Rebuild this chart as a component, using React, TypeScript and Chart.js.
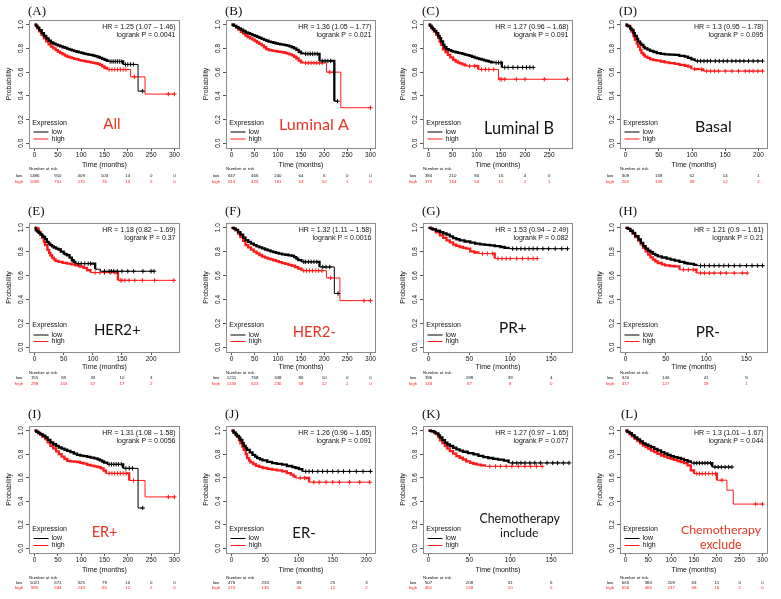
import React, { useEffect, useRef } from 'react';
import { Chart, registerables } from 'chart.js';

Chart.register(...registerables);

type Pt = [number, number];

// ---------- tick values ----------
const TICKS_Y = [0, 0.2, 0.4, 0.6, 0.8, 1.0];
const TICKS_150 = [0, 50, 100, 150];
const TICKS_200 = [0, 50, 100, 150, 200];
const TICKS_250 = [0, 50, 100, 150, 200, 250];
const TICKS_300 = [0, 50, 100, 150, 200, 250, 300];

// ---------- survival curves: [months, probability]; a point at the same level as the one before is a censor mark ----------
const A_low: Pt[] = [[0,1],[3,0.99],[6,0.975],[10,0.955],[15,0.93],[20,0.905],[25,0.885],[30,0.865],[35,0.85],[40,0.84],[45,0.832],[50,0.825],[55,0.818],[60,0.81],[65,0.805],[70,0.797],[75,0.79],[80,0.784],[85,0.778],[90,0.772],[95,0.767],[100,0.762],[105,0.757],[110,0.752],[115,0.748],[120,0.745],[125,0.74],[130,0.735],[135,0.728],[140,0.72],[145,0.712],[150,0.703],[155,0.695],[158,0.69],[162,0.69],[166,0.69],[170,0.69],[174,0.69],[178,0.69],[182,0.69],[186,0.69],[190,0.665],[195,0.665],[200,0.665],[206,0.665],[212,0.665],[222,0.44],[232,0.44]];
const A_high: Pt[] = [[0,1],[3,0.99],[6,0.97],[10,0.945],[15,0.915],[20,0.885],[25,0.86],[30,0.835],[35,0.815],[40,0.8],[45,0.785],[50,0.772],[55,0.76],[60,0.75],[65,0.74],[70,0.73],[75,0.724],[80,0.718],[85,0.712],[90,0.707],[95,0.702],[100,0.698],[105,0.694],[110,0.69],[115,0.686],[120,0.683],[125,0.679],[130,0.675],[135,0.67],[140,0.662],[145,0.648],[150,0.635],[155,0.622],[160,0.622],[166,0.622],[172,0.622],[178,0.622],[184,0.622],[190,0.622],[196,0.622],[206,0.56],[214,0.56],[237,0.415],[287,0.415],[300,0.415]];

const B_low: Pt[] = [[0,1],[5,0.99],[10,0.98],[15,0.97],[20,0.958],[25,0.947],[30,0.936],[35,0.928],[40,0.92],[45,0.912],[50,0.905],[55,0.897],[60,0.889],[65,0.881],[70,0.872],[75,0.865],[80,0.858],[85,0.853],[90,0.848],[95,0.843],[100,0.838],[105,0.835],[110,0.832],[115,0.828],[120,0.823],[125,0.817],[130,0.81],[135,0.8],[140,0.788],[145,0.772],[150,0.758],[155,0.755],[160,0.755],[165,0.755],[170,0.755],[175,0.755],[180,0.755],[185,0.755],[190,0.695],[196,0.695],[202,0.695],[208,0.695],[214,0.695],[222,0.355],[229,0.355]];
const B_high: Pt[] = [[0,1],[5,0.99],[10,0.975],[15,0.958],[20,0.94],[25,0.925],[30,0.908],[35,0.896],[40,0.885],[45,0.874],[50,0.863],[55,0.85],[60,0.838],[65,0.826],[70,0.81],[75,0.795],[80,0.787],[85,0.783],[90,0.78],[95,0.777],[100,0.774],[105,0.771],[110,0.768],[115,0.762],[120,0.756],[125,0.75],[130,0.742],[135,0.73],[140,0.715],[145,0.698],[150,0.682],[153,0.678],[160,0.678],[166,0.678],[172,0.678],[178,0.678],[184,0.678],[190,0.678],[196,0.678],[205,0.6],[212,0.6],[220,0.6],[236,0.3],[300,0.3]];

const C_low: Pt[] = [[0,1],[3,0.99],[6,0.975],[9,0.963],[12,0.948],[16,0.93],[20,0.905],[23,0.887],[26,0.86],[30,0.83],[33,0.81],[37,0.793],[42,0.785],[47,0.778],[51,0.773],[56,0.768],[61,0.763],[65,0.76],[70,0.754],[75,0.748],[80,0.743],[85,0.737],[90,0.73],[95,0.723],[100,0.716],[105,0.711],[110,0.705],[115,0.7],[120,0.694],[125,0.688],[130,0.682],[135,0.68],[140,0.68],[145,0.68],[150,0.68],[152,0.64],[158,0.64],[165,0.64],[175,0.64],[185,0.64],[195,0.64],[203,0.64],[210,0.64],[217,0.64]];
const C_high: Pt[] = [[0,1],[3,0.99],[6,0.972],[9,0.957],[12,0.94],[16,0.915],[20,0.89],[23,0.858],[26,0.83],[30,0.793],[35,0.77],[40,0.745],[45,0.725],[51,0.703],[56,0.69],[61,0.68],[65,0.674],[70,0.665],[75,0.657],[78,0.652],[85,0.652],[95,0.652],[103,0.623],[110,0.623],[118,0.623],[125,0.623],[135,0.623],[145,0.54],[148,0.54],[152,0.54],[158,0.54],[182,0.54],[200,0.54],[240,0.54],[288,0.54]];

const D_low: Pt[] = [[0,1],[2,0.993],[4,0.986],[7,0.97],[9,0.957],[12,0.93],[14,0.906],[17,0.88],[19,0.858],[22,0.84],[24,0.83],[27,0.812],[29,0.8],[33,0.79],[37,0.779],[42,0.77],[47,0.76],[53,0.755],[59,0.75],[66,0.748],[74,0.745],[81,0.738],[89,0.731],[94,0.72],[99,0.708],[104,0.694],[108,0.694],[113,0.694],[118,0.694],[123,0.694],[128,0.694],[135,0.694],[141,0.694],[147,0.694],[153,0.694],[160,0.694],[166,0.694],[172,0.694],[178,0.694],[185,0.694],[192,0.694],[199,0.694],[206,0.694]];
const D_high: Pt[] = [[0,1],[2,0.995],[4,0.99],[7,0.965],[9,0.943],[12,0.905],[14,0.873],[17,0.84],[19,0.816],[22,0.785],[24,0.76],[27,0.745],[29,0.731],[33,0.72],[37,0.708],[42,0.702],[47,0.697],[53,0.69],[59,0.683],[66,0.676],[74,0.669],[81,0.662],[89,0.654],[94,0.646],[99,0.626],[104,0.626],[110,0.623],[114,0.623],[117,0.609],[122,0.609],[128,0.609],[134,0.609],[140,0.609],[150,0.609],[160,0.609],[170,0.609],[180,0.609],[186,0.609],[192,0.609],[199,0.609],[206,0.609]];

const E_low: Pt[] = [[0,1],[2,0.98],[4,0.97],[7,0.958],[10,0.944],[13,0.932],[15,0.924],[18,0.905],[21,0.882],[24,0.868],[27,0.854],[30,0.845],[33,0.835],[37,0.826],[41,0.818],[45,0.8],[50,0.784],[53,0.777],[56,0.77],[60,0.75],[64,0.728],[67,0.714],[70,0.7],[75,0.7],[80,0.7],[86,0.7],[92,0.7],[96,0.7],[104,0.653],[113,0.636],[120,0.636],[128,0.636],[132,0.636],[136,0.636],[142,0.636],[150,0.636],[160,0.636],[170,0.636],[186,0.636],[200,0.636],[205,0.636]];
const E_high: Pt[] = [[0,1],[4,0.994],[7,0.966],[10,0.94],[13,0.916],[16,0.88],[18,0.854],[22,0.815],[25,0.79],[27,0.77],[30,0.75],[33,0.735],[36,0.723],[41,0.714],[48,0.707],[56,0.7],[63,0.693],[70,0.686],[77,0.675],[84,0.664],[90,0.645],[96,0.625],[104,0.625],[112,0.625],[120,0.625],[130,0.625],[138,0.625],[143,0.56],[147,0.56],[150,0.56],[155,0.56],[162,0.56],[172,0.56],[185,0.56],[206,0.56],[239,0.56]];

const F_low: Pt[] = [[0,1],[5,0.993],[9,0.983],[14,0.963],[19,0.942],[25,0.918],[30,0.896],[36,0.882],[42,0.868],[48,0.855],[54,0.845],[60,0.836],[66,0.827],[72,0.818],[78,0.81],[84,0.803],[90,0.797],[96,0.79],[102,0.784],[109,0.778],[116,0.774],[123,0.769],[130,0.764],[135,0.755],[140,0.742],[144,0.73],[151,0.715],[156,0.715],[160,0.715],[166,0.715],[172,0.715],[178,0.715],[184,0.715],[190,0.672],[197,0.672],[204,0.672],[212,0.672],[222,0.45],[230,0.45]];
const F_high: Pt[] = [[0,1],[5,0.99],[9,0.978],[14,0.952],[19,0.923],[25,0.89],[30,0.855],[36,0.836],[42,0.817],[48,0.8],[54,0.786],[60,0.772],[66,0.759],[72,0.75],[78,0.742],[84,0.735],[90,0.728],[96,0.72],[102,0.712],[109,0.704],[116,0.697],[123,0.69],[130,0.682],[137,0.67],[144,0.658],[151,0.641],[156,0.641],[162,0.641],[168,0.641],[175,0.641],[182,0.641],[188,0.641],[195,0.641],[205,0.58],[214,0.58],[234,0.39],[286,0.39],[300,0.39]];

const G_low: Pt[] = [[0,1],[3,0.993],[5,0.986],[9,0.975],[14,0.964],[18,0.953],[22,0.942],[26,0.928],[30,0.914],[34,0.904],[38,0.895],[44,0.885],[51,0.875],[57,0.868],[63,0.861],[69,0.857],[75,0.853],[81,0.846],[88,0.839],[93,0.832],[98,0.825],[103,0.825],[108,0.825],[113,0.825],[118,0.825],[123,0.825],[128,0.825],[133,0.825],[140,0.825],[147,0.825],[155,0.825],[163,0.825],[170,0.825]];
const G_high: Pt[] = [[0,1],[3,0.993],[5,0.986],[9,0.962],[14,0.936],[18,0.915],[22,0.895],[26,0.877],[30,0.859],[34,0.849],[38,0.839],[42,0.832],[46,0.825],[51,0.803],[56,0.793],[61,0.784],[66,0.784],[72,0.784],[78,0.784],[81,0.742],[85,0.742],[90,0.742],[95,0.742],[100,0.742],[108,0.742],[115,0.742],[122,0.742],[128,0.742],[133,0.742]];

const H_low: Pt[] = [[0,1],[3,0.99],[6,0.975],[9,0.958],[12,0.93],[16,0.902],[19,0.874],[22,0.846],[25,0.826],[28,0.809],[31,0.795],[34,0.781],[37,0.771],[40,0.761],[45,0.751],[51,0.742],[56,0.733],[61,0.725],[67,0.715],[73,0.705],[77,0.7],[81,0.697],[85,0.69],[88,0.683],[93,0.683],[98,0.683],[104,0.683],[110,0.683],[116,0.683],[122,0.683],[128,0.683],[135,0.683],[142,0.683],[150,0.683],[157,0.683],[164,0.683],[170,0.683]];
const H_high: Pt[] = [[0,1],[3,0.99],[6,0.972],[9,0.949],[12,0.922],[16,0.893],[19,0.862],[22,0.831],[25,0.803],[28,0.775],[31,0.753],[34,0.733],[37,0.718],[40,0.705],[45,0.693],[49,0.685],[55,0.68],[61,0.677],[67,0.649],[72,0.649],[78,0.649],[84,0.649],[88,0.621],[93,0.621],[98,0.621],[104,0.621],[110,0.621],[118,0.621],[125,0.621],[135,0.621],[145,0.621],[151,0.621]];

const I_low: Pt[] = [[0,1],[4,0.99],[8,0.982],[12,0.971],[17,0.958],[23,0.943],[28,0.922],[34,0.9],[40,0.885],[46,0.871],[52,0.857],[58,0.847],[64,0.838],[70,0.829],[77,0.817],[84,0.805],[91,0.794],[98,0.788],[105,0.783],[113,0.777],[120,0.771],[128,0.764],[135,0.757],[140,0.748],[145,0.738],[149,0.729],[156,0.714],[160,0.714],[165,0.714],[170,0.714],[175,0.714],[180,0.714],[186,0.714],[190,0.68],[196,0.68],[203,0.68],[210,0.68],[222,0.343],[232,0.343]];
const I_high: Pt[] = [[0,1],[4,0.99],[8,0.978],[12,0.966],[17,0.948],[23,0.929],[28,0.9],[34,0.871],[40,0.85],[46,0.825],[52,0.8],[58,0.78],[64,0.76],[70,0.743],[77,0.74],[84,0.737],[91,0.734],[98,0.727],[105,0.72],[113,0.709],[120,0.703],[128,0.697],[135,0.691],[142,0.68],[148,0.66],[153,0.637],[160,0.637],[166,0.637],[172,0.637],[178,0.637],[184,0.637],[190,0.637],[196,0.637],[203,0.577],[212,0.577],[237,0.437],[287,0.437],[300,0.437]];

const J_low: Pt[] = [[0,1],[3,0.983],[6,0.97],[8,0.955],[11,0.94],[13,0.921],[16,0.895],[18,0.871],[21,0.852],[23,0.837],[27,0.815],[31,0.795],[35,0.78],[38,0.767],[42,0.757],[46,0.747],[53,0.735],[60,0.725],[67,0.718],[75,0.711],[82,0.7],[90,0.691],[95,0.683],[100,0.674],[105,0.654],[110,0.654],[115,0.654],[120,0.654],[128,0.654],[135,0.654],[142,0.654],[150,0.654],[158,0.654],[166,0.654],[175,0.654],[185,0.654],[195,0.654],[206,0.654]];
const J_high: Pt[] = [[0,1],[3,0.983],[6,0.965],[8,0.949],[11,0.92],[13,0.893],[16,0.865],[18,0.837],[21,0.8],[23,0.767],[26,0.745],[28,0.73],[32,0.715],[36,0.702],[41,0.692],[46,0.683],[53,0.676],[60,0.669],[67,0.662],[75,0.654],[82,0.64],[88,0.626],[92,0.612],[95,0.598],[102,0.598],[108,0.598],[115,0.562],[122,0.562],[130,0.562],[140,0.562],[150,0.562],[160,0.562],[175,0.562],[190,0.562],[205,0.562]];

const K_low: Pt[] = [[0,1],[3,0.997],[5,0.994],[7,0.986],[9,0.977],[12,0.96],[14,0.942],[17,0.92],[20,0.899],[23,0.884],[26,0.87],[30,0.855],[34,0.841],[38,0.831],[42,0.821],[48,0.81],[55,0.798],[61,0.786],[67,0.775],[73,0.768],[79,0.761],[85,0.754],[92,0.746],[98,0.726],[103,0.726],[108,0.726],[113,0.726],[118,0.726],[124,0.726],[130,0.726],[137,0.726],[145,0.726],[152,0.726],[158,0.726],[165,0.726],[172,0.726]];
const K_high: Pt[] = [[0,1],[3,0.997],[5,0.994],[7,0.983],[9,0.971],[12,0.945],[14,0.919],[17,0.894],[20,0.87],[23,0.848],[26,0.827],[30,0.805],[34,0.784],[38,0.77],[42,0.755],[46,0.74],[51,0.726],[55,0.719],[59,0.712],[64,0.705],[69,0.697],[75,0.697],[82,0.697],[88,0.697],[95,0.697],[102,0.697],[110,0.697],[118,0.697],[125,0.697],[132,0.697],[139,0.697]];

const L_low: Pt[] = [[0,1],[4,0.99],[9,0.98],[14,0.962],[20,0.944],[26,0.927],[32,0.91],[38,0.893],[44,0.882],[50,0.871],[56,0.86],[63,0.846],[70,0.832],[78,0.817],[85,0.806],[92,0.795],[99,0.784],[106,0.776],[114,0.769],[121,0.761],[128,0.75],[136,0.739],[143,0.725],[150,0.725],[156,0.725],[162,0.725],[168,0.725],[174,0.725],[180,0.725],[186,0.725],[190,0.691],[196,0.691],[203,0.691],[210,0.691],[218,0.691],[226,0.691],[233,0.691]];
const L_high: Pt[] = [[0,1],[4,0.988],[9,0.972],[14,0.951],[20,0.93],[26,0.912],[32,0.893],[38,0.874],[44,0.86],[50,0.845],[56,0.831],[63,0.817],[70,0.803],[78,0.789],[85,0.78],[92,0.77],[99,0.761],[106,0.752],[114,0.742],[121,0.733],[128,0.724],[136,0.705],[143,0.663],[150,0.635],[156,0.635],[162,0.635],[168,0.635],[175,0.635],[182,0.635],[190,0.635],[197,0.635],[200,0.579],[211,0.579],[222,0.494],[236,0.376],[285,0.376],[300,0.376]];

// ---------- numbers at risk ----------
const A_riskLow = [1486, 910, 409, 103, 14, 0, 0];
const A_riskHigh = [1095, 701, 270, 76, 13, 2, 0];
const B_riskLow = [647, 466, 240, 64, 6, 0, 0];
const B_riskHigh = [613, 425, 181, 53, 10, 1, 0];
const C_riskLow = [384, 210, 84, 16, 4, 0];
const C_riskHigh = [372, 164, 50, 11, 2, 1];
const D_riskLow = [309, 158, 52, 14, 1];
const D_riskHigh = [262, 126, 39, 12, 2];
const E_riskLow = [155, 85, 33, 10, 3];
const E_riskHigh = [298, 155, 67, 17, 2];
const F_riskLow = [1211, 768, 348, 86, 10, 0, 0];
const F_riskHigh = [1133, 623, 230, 58, 12, 2, 0];
const G_riskLow = [396, 198, 39, 4];
const G_riskHigh = [133, 67, 8, 0];
const H_riskLow = [320, 146, 41, 9];
const H_riskHigh = [317, 127, 19, 1];
const I_riskLow = [1021, 671, 325, 79, 10, 0, 0];
const I_riskHigh = [995, 594, 233, 65, 12, 2, 0];
const J_riskLow = [476, 233, 83, 25, 3];
const J_riskHigh = [273, 135, 40, 12, 2];
const K_riskLow = [507, 208, 31, 6];
const K_riskHigh = [461, 158, 10, 0];
const L_riskLow = [665, 384, 209, 63, 11, 0, 0];
const L_riskHigh = [656, 466, 237, 68, 16, 2, 0];

// ---------- panel texts ----------
const LETTERS = ['(A)', '(B)', '(C)', '(D)', '(E)', '(F)', '(G)', '(H)', '(I)', '(J)', '(K)', '(L)'];
const HR_TEXT = [
  'HR = 1.25 (1.07 – 1.46)', 'HR = 1.36 (1.05 – 1.77)', 'HR = 1.27 (0.96 – 1.68)', 'HR = 1.3 (0.95 – 1.78)',
  'HR = 1.18 (0.82 – 1.69)', 'HR = 1.32 (1.11 – 1.58)', 'HR = 1.53 (0.94 – 2.49)', 'HR = 1.21 (0.9 – 1.61)',
  'HR = 1.31 (1.08 – 1.58)', 'HR = 1.26 (0.96 – 1.65)', 'HR = 1.27 (0.97 – 1.65)', 'HR = 1.3 (1.01 – 1.67)',
];
const P_TEXT = [
  'logrank P = 0.0041', 'logrank P = 0.021', 'logrank P = 0.091', 'logrank P = 0.095',
  'logrank P = 0.37', 'logrank P = 0.0016', 'logrank P = 0.082', 'logrank P = 0.21',
  'logrank P = 0.0056', 'logrank P = 0.091', 'logrank P = 0.077', 'logrank P = 0.044',
];
const SUBGROUPS = [
  ['All'], ['Luminal A'], ['Luminal B'], ['Basal'],
  ['HER2+'], ['HER2-'], ['PR+'], ['PR-'],
  ['ER+'], ['ER-'], ['Chemotherapy', 'include'], ['Chemotherapy', 'exclude'],
];
const SUBGROUP_RED = [true, true, false, false, false, true, false, false, true, false, false, true];

const LOWS = [A_low, B_low, C_low, D_low, E_low, F_low, G_low, H_low, I_low, J_low, K_low, L_low];
const HIGHS = [A_high, B_high, C_high, D_high, E_high, F_high, G_high, H_high, I_high, J_high, K_high, L_high];
const RISK_LOW = [A_riskLow, B_riskLow, C_riskLow, D_riskLow, E_riskLow, F_riskLow, G_riskLow, H_riskLow, I_riskLow, J_riskLow, K_riskLow, L_riskLow];
const RISK_HIGH = [A_riskHigh, B_riskHigh, C_riskHigh, D_riskHigh, E_riskHigh, F_riskHigh, G_riskHigh, H_riskHigh, I_riskHigh, J_riskHigh, K_riskHigh, L_riskHigh];
const X_MAX = [300, 300, 288, 206, 240, 300, 170, 170, 300, 206, 170, 300];
const X_TICKS = [TICKS_300, TICKS_300, TICKS_250, TICKS_200, TICKS_200, TICKS_300, TICKS_150, TICKS_150, TICKS_300, TICKS_200, TICKS_150, TICKS_300];

// ---------- layout (absolute page pixels) ----------
const COL_X0 = [0, 197, 394, 591];
const COL_W = [197, 197, 197, 190];
const ROW_Y0 = [0, 203, 407];
const ROW_H = [203, 204, 192];
const FRAME_L = [29, 226, 423, 620];
const FRAME_R = [180, 376, 573, 768];
const FRAME_T = [20, 223, 426];
const FRAME_B = [148, 352, 553];
const LETTER_Y = [11.5, 211.7, 414.5];
const XTITLE_OFF = [16.7, 15, 17.3];
const LEGEND_OFF = [[-25, -16, -9], [-26.5, -17, -10.5], [-24, -14.5, -7.5]];
const RISK_OFF = [[21, 27.4, 34], [21, 26, 32], [25, 30, 35]];
// subgroup label lines: [centre x, centre y, width]
const LABEL_BOX: number[][][] = [
  [[112, 123.7, 17.3]], [[314, 123.7, 70]], [[519, 128.3, 70]], [[713.3, 126.7, 36.7]],
  [[117.3, 330, 46.7]], [[314.3, 331.7, 43.3]], [[512.8, 327.3, 27.7]], [[707.8, 331.7, 24.3]],
  [[104.5, 532.3, 25.7]], [[304, 532.3, 23.3]],
  [[519.7, 519, 80.7], [519.2, 532.3, 38.3]], [[721, 530, 80], [720.8, 545, 41.7]],
];

const Y_AXIS_W = 27;
const X_AXIS_H = 26;
const FONT = '"Liberation Sans", Arial, Helvetica, sans-serif';
const LABEL_FONT = 'Lato, "Open Sans", sans-serif';
const RED = '#ff1a1a';
const LABEL_RED = '#ea3323';
const FRAME_COLOR = '#8c8c8c';

Chart.defaults.font.family = FONT;

function makeDecor(i: number) {
  const col = i % 4;
  const row = Math.floor(i / 4);
  const x0 = COL_X0[col];
  const y0 = ROW_Y0[row];
  return {
    id: 'kmDecor' + i,
    afterDraw(chart: any) {
      const ctx: CanvasRenderingContext2D = chart.ctx;
      const a = chart.chartArea;
      const xs = chart.scales.x;
      ctx.save();
      // box
      ctx.strokeStyle = FRAME_COLOR;
      ctx.lineWidth = 1;
      ctx.strokeRect(Math.round(a.left) + 0.5, Math.round(a.top) + 0.5, Math.round(a.right - a.left) - 1, Math.round(a.bottom - a.top));
      // panel letter
      ctx.fillStyle = '#111';
      ctx.font = '13px "Liberation Serif", "DejaVu Serif", serif';
      ctx.textAlign = 'left';
      ctx.textBaseline = 'middle';
      ctx.fillText(LETTERS[i], a.left - 1 + (i === 11 ? 2 : 0), LETTER_Y[row] - y0);
      // HR and logrank
      ctx.font = '7px ' + FONT;
      ctx.textAlign = 'right';
      ctx.fillStyle = '#111';
      ctx.fillText(HR_TEXT[i], a.right - 4.5, a.top + 7);
      ctx.fillText(P_TEXT[i], a.right - 4.5, a.top + 14.6);
      // legend
      const lo = LEGEND_OFF[row];
      ctx.textAlign = 'left';
      ctx.font = '7px ' + FONT;
      ctx.fillText('Expression', a.left + 3.3, a.bottom + lo[0]);
      ctx.lineWidth = 1;
      ctx.strokeStyle = '#000';
      ctx.beginPath();
      ctx.moveTo(a.left + 4.5, a.bottom + lo[1]);
      ctx.lineTo(a.left + 19.5, a.bottom + lo[1]);
      ctx.stroke();
      ctx.strokeStyle = RED;
      ctx.beginPath();
      ctx.moveTo(a.left + 4.5, a.bottom + lo[2]);
      ctx.lineTo(a.left + 19.5, a.bottom + lo[2]);
      ctx.stroke();
      ctx.fillText('low', a.left + 22.5, a.bottom + lo[1]);
      ctx.fillText('high', a.left + 22.5, a.bottom + lo[2]);
      // subgroup label
      const lines = SUBGROUPS[i];
      const boxes = LABEL_BOX[i];
      ctx.fillStyle = SUBGROUP_RED[i] ? LABEL_RED : '#111';
      ctx.textAlign = 'center';
      ctx.textBaseline = 'alphabetic';
      lines.forEach((t, k) => {
        const [cx, cy, w] = boxes[k];
        ctx.font = '10px ' + LABEL_FONT;
        const w10 = ctx.measureText(t).width;
        const size = (10 * w) / w10;
        ctx.font = size.toFixed(2) + 'px ' + LABEL_FONT;
        ctx.fillText(t, cx - x0, cy - y0 + size * 0.36);
      });
      // numbers at risk
      const ro = RISK_OFF[row];
      ctx.textBaseline = 'middle';
      ctx.font = '4.4px ' + FONT;
      ctx.fillStyle = '#111';
      ctx.textAlign = 'left';
      ctx.fillText('Number at risk', a.left, a.bottom + ro[0]);
      ctx.textAlign = 'center';
      ctx.fillText('low', a.left - 10, a.bottom + ro[1]);
      ctx.fillStyle = RED;
      ctx.fillText('high', a.left - 10, a.bottom + ro[2]);
      const ticks = X_TICKS[i];
      ticks.forEach((t, k) => {
        const px = xs.getPixelForValue(t);
        ctx.fillStyle = '#111';
        ctx.fillText(String(RISK_LOW[i][k]), px, a.bottom + ro[1]);
        ctx.fillStyle = RED;
        ctx.fillText(String(RISK_HIGH[i][k]), px, a.bottom + ro[2]);
      });
      ctx.restore();
    },
  };
}

function curveDataset(pts: Pt[], color: string) {
  const data = pts.map(([x, y]) => ({ x, y }));
  return {
    data,
    borderColor: color,
    backgroundColor: color,
    borderWidth: 1,
    stepped: true,
    fill: false,
    pointStyle: 'cross',
    pointBorderColor: color,
    pointBorderWidth: 1,
    pointRadius: (c: any) => {
      const k = c.dataIndex;
      const d = c.dataset.data;
      return k > 0 && d[k].y === d[k - 1].y ? 2.2 : 0;
    },
    pointHoverRadius: 0,
    segment: {
      borderWidth: (c: any) => {
        const dx = c.p1.parsed.x - c.p0.parsed.x;
        const dy = c.p1.parsed.y - c.p0.parsed.y;
        return dy !== 0 && dx <= 8 ? 2.3 : 1;
      },
    },
  };
}

function KMPanel({ i }: { i: number }) {
  const ref = useRef<HTMLCanvasElement | null>(null);
  const col = i % 4;
  const row = Math.floor(i / 4);
  const x0 = COL_X0[col];
  const y0 = ROW_Y0[row];
  const w = COL_W[col];
  const h = ROW_H[row];

  useEffect(() => {
    if (!ref.current) return;
    const xMax = X_MAX[i];
    const fl = FRAME_L[col] - x0;
    const fr = FRAME_R[col] - x0;
    const ft = FRAME_T[row] - y0;
    const fb = FRAME_B[row] - y0;
    const xTitleLine = 7 * 1.2;
    const chart = new Chart(ref.current, {
      type: 'line',
      data: {
        datasets: [curveDataset(LOWS[i], '#000000'), curveDataset(HIGHS[i], RED)] as any,
      },
      options: {
        responsive: false,
        animation: false,
        devicePixelRatio: 1,
        events: [],
        layout: {
          padding: { left: fl - Y_AXIS_W, right: w - fr, top: ft, bottom: h - fb - X_AXIS_H },
        },
        plugins: { legend: { display: false }, tooltip: { enabled: false } },
        scales: {
          x: {
            type: 'linear',
            min: -0.04 * xMax,
            max: 1.04 * xMax,
            afterBuildTicks: (s: any) => {
              s.ticks = X_TICKS[i].map((v) => ({ value: v }));
            },
            afterFit: (s: any) => {
              s.height = X_AXIS_H;
            },
            grid: { drawOnChartArea: false, drawTicks: true, tickLength: 3, tickColor: '#555', lineWidth: 1 },
            border: { display: false },
            ticks: {
              color: '#111',
              font: { family: FONT, size: 6.5 },
              padding: 0,
              minRotation: 0,
              maxRotation: 0,
              autoSkip: false,
              callback: (v: any) => String(v),
            },
            title: {
              display: true,
              text: 'Time (months)',
              color: '#111',
              font: { family: FONT, size: 7 },
              padding: { top: 0, bottom: X_AXIS_H - XTITLE_OFF[row] - xTitleLine / 2 },
            },
          },
          y: {
            type: 'linear',
            min: -0.04,
            max: 1.04,
            afterBuildTicks: (s: any) => {
              s.ticks = TICKS_Y.map((v) => ({ value: v }));
            },
            afterFit: (s: any) => {
              s.width = Y_AXIS_W;
            },
            grid: { drawOnChartArea: false, drawTicks: true, tickLength: 3, tickColor: '#555', lineWidth: 1 },
            border: { display: false },
            ticks: {
              color: '#111',
              font: { family: FONT, size: 6.5 },
              padding: 0,
              minRotation: 90,
              maxRotation: 90,
              crossAlign: 'center',
              autoSkip: false,
              callback: (v: any) => Number(v).toFixed(1),
            },
            title: {
              display: true,
              text: 'Probability',
              color: '#111',
              font: { family: FONT, size: 7 },
              padding: { top: 9 - (fl - Y_AXIS_W) - xTitleLine / 2, bottom: 0 },
            },
          },
        },
      } as any,
      plugins: [makeDecor(i)],
    });
    return () => chart.destroy();
  }, [i]);

  return (
    <canvas
      ref={ref}
      width={w}
      height={h}
      style={{ position: 'absolute', left: x0, top: y0, width: w, height: h }}
    />
  );
}

export default function App() {
  return (
    <div
      style={{
        position: 'absolute',
        left: 0,
        top: 0,
        width: 781,
        height: 599,
        background: '#ffffff',
        overflow: 'hidden',
      }}
    >
      {LETTERS.map((_, i) => (
        <KMPanel key={i} i={i} />
      ))}
    </div>
  );
}
